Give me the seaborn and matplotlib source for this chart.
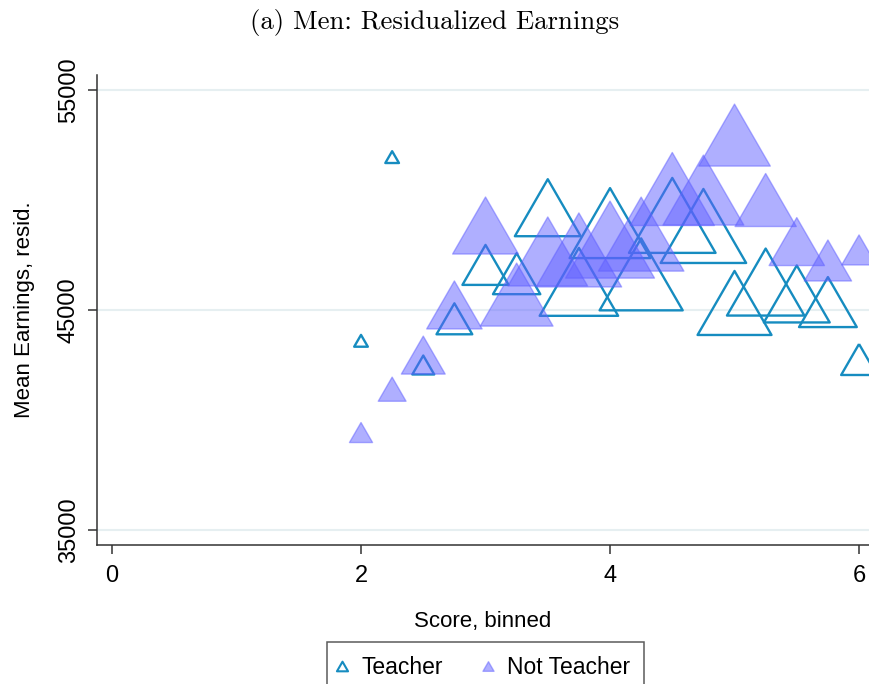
import numpy as np
import pandas as pd
import matplotlib
matplotlib.use("Agg")
import matplotlib.pyplot as plt
from matplotlib.path import Path
from matplotlib.markers import MarkerStyle
from matplotlib.lines import Line2D
import seaborn as sns

# ---------------- data ----------------
score_bins = [2.0, 2.25, 2.5, 2.75, 3.0, 3.25, 3.5, 3.75, 4.0,
              4.25, 4.5, 4.75, 5.0, 5.25, 5.5, 5.75, 6.0]

teacher_earn = [43600, 51950, 42500, 44600, 47050, 46650, 49650, 46280, 48950,
                46620, 49300, 48820, 45320, 46270, 45730, 45360, 42750]
teacher_n = [14, 14, 36, 96, 160, 168, 325, 462, 490,
             518, 562, 548, 410, 449, 325, 250, 96]

nonteacher_earn = [39430, 41400, 42950, 45230, 48840, 45700, 47660, 47730, 48200,
                   48450, 50500, 50450, 52950, 50000, 48110, 47250, 47730]
nonteacher_n = [40, 58, 144, 230, 325, 397, 476, 548, 593,
                548, 533, 490, 384, 281, 230, 168, 90]

group_labels = ["Teacher", "Not Teacher"]
x_ticks = [0, 2, 4, 6]
y_ticks = [35000, 45000, 55000]

df_t = pd.DataFrame({"score": score_bins, "earn": teacher_earn, "n": teacher_n})
df_n = pd.DataFrame({"score": score_bins, "earn": nonteacher_earn, "n": nonteacher_n})

# ---------------- style ----------------
sns.set_style("white")
plt.rcParams["font.family"] = ["Liberation Sans", "DejaVu Sans"]
plt.rcParams["text.color"] = "black"
plt.rcParams["axes.labelcolor"] = "black"

teacher_col = "#168cc0"
nonteach_col = "#6060ff"

# equilateral triangle marker (centered on bbox)
h = np.sqrt(3) / 4
tri_path = Path([(0, h), (-0.5, -h), (0.5, -h), (0, h)],
                [Path.MOVETO, Path.LINETO, Path.LINETO, Path.CLOSEPOLY])
tri = MarkerStyle(tri_path, joinstyle="miter")

fig = plt.figure(figsize=(8.69, 6.84), dpi=100)
ax = fig.add_axes([97 / 869, (684 - 545) / 684, 1 - 97 / 869, (545 - 75) / 684])

size_norm = (0, 1000)
size_range = (0, 6912)

sns.scatterplot(data=df_t, x="score", y="earn", size="n", sizes=size_range,
                size_norm=size_norm, marker=tri, color=teacher_col,
                facecolor="none", edgecolor=teacher_col, linewidth=1.7,
                legend=False, ax=ax, zorder=3)
sns.scatterplot(data=df_n, x="score", y="earn", size="n", sizes=size_range,
                size_norm=size_norm, marker=tri, color=nonteach_col,
                edgecolor=nonteach_col, linewidth=1.0, alpha=0.5,
                legend=False, ax=ax, zorder=4)

ax.set_xlim(-0.1205, 6.08)
ax.set_ylim(34318, 55682)
ax.set_xticks(x_ticks)
ax.set_yticks(y_ticks)
ax.set_xticklabels([str(v) for v in x_ticks])
ax.set_yticklabels([str(v) for v in y_ticks], rotation=90, va="center")

ax.grid(axis="y", color="#e6eff1", linewidth=1.5, zorder=0)
ax.grid(axis="x", visible=False)
ax.set_axisbelow(True)

for side in ["top", "right"]:
    ax.spines[side].set_visible(False)
for side in ["left", "bottom"]:
    ax.spines[side].set_color("#333333")
    ax.spines[side].set_linewidth(1.1)

ax.tick_params(axis="both", which="major", direction="out", length=6.5,
               width=1.1, color="#333333", labelsize=17, labelcolor="black",
               left=True, bottom=True)
ax.tick_params(axis="y", pad=6)
ax.tick_params(axis="x", pad=8)

ax.set_xlabel("Score, binned", fontsize=16, labelpad=17, color="black")
ax.set_ylabel("Mean Earnings, resid.", fontsize=16, labelpad=16, color="black")

fig.suptitle("(a) Men: Residualized Earnings", family="cmr10", fontsize=19.3,
             y=1 - 22 / 684, va="center")

handles = [
    Line2D([], [], linestyle="none", marker=tri, markersize=8,
           markerfacecolor="none", markeredgecolor=teacher_col, markeredgewidth=1.5),
    Line2D([], [], linestyle="none", marker=tri, markersize=8,
           markerfacecolor=(0.38, 0.38, 1.0, 0.5), markeredgecolor=(0.38, 0.38, 1.0, 0.5),
           markeredgewidth=1.0),
]
leg = fig.legend(handles, group_labels, loc="upper left",
                 bbox_to_anchor=(327 / 869, (684 - 642) / 684), ncol=2,
                 fontsize=16.5, frameon=True, fancybox=False, borderpad=0.6,
                 handletextpad=0.8, columnspacing=1.9, handlelength=0.1,
                 borderaxespad=0)
leg.get_frame().set_edgecolor("#333333")
leg.get_frame().set_linewidth(1.1)

fig.savefig("out.png", dpi=100)
